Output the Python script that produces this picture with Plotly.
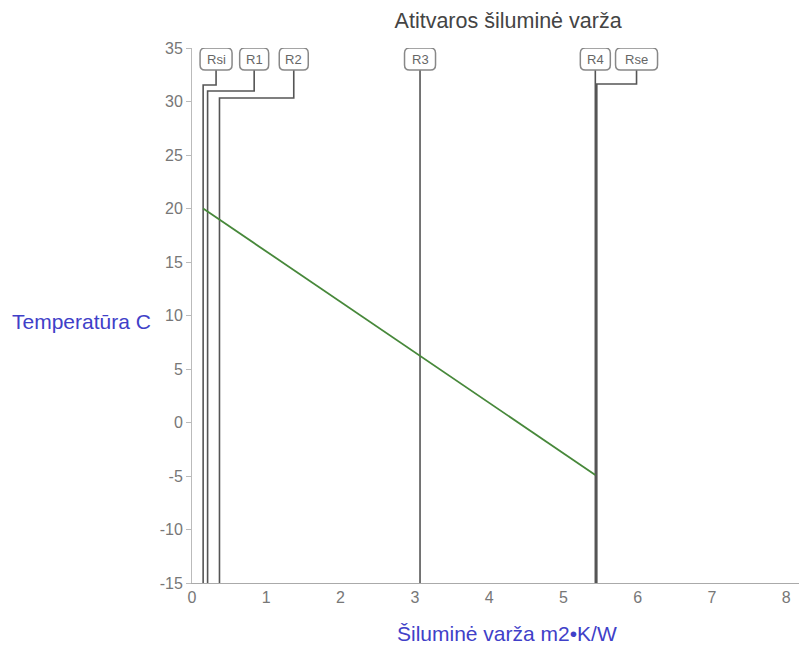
import plotly.graph_objects as go

# ---- data ----
layers = ["Rsi", "R1", "R2", "R3", "R4", "Rse"]
r_cum = [0.15, 0.21, 0.37, 3.07, 5.43, 5.45]          # cumulative resistance, m2·K/W
temp_x = [0.15, 3.07, 5.43]
temp_y = [20.0, 6.2, -4.9]                            # temperature, °C
x_ticks = [0, 1, 2, 3, 4, 5, 6, 7, 8]
y_ticks = [-15, -10, -5, 0, 5, 10, 15, 20, 25, 30, 35]
y_ticktext = ["-15", "-10", "-5", "0", "5", "10", "15", "20", "25", "30", "35"]

# ---- layout helpers (label placement) ----
label_x = [0.324, 0.837, 1.37, 3.07, 5.43, 5.985]
label_w = [32, 29, 29, 31, 30, 42]     # box widths in px
label_h = 22
label_y = 33.97
box_bottom = 32.94
elbow_y = [31.54, 30.98, 30.33, None, None, 31.64]
line_color = "#555555"
FONT = "Liberation Sans, Arial, sans-serif"


def rounded_box(w, h, r=5):
    x0, x1, y0, y1 = -w / 2, w / 2, -h / 2, h / 2
    return (f"M{x0+r},{y0} L{x1-r},{y0} Q{x1},{y0} {x1},{y0+r} "
            f"L{x1},{y1-r} Q{x1},{y1} {x1-r},{y1} L{x0+r},{y1} "
            f"Q{x0},{y1} {x0},{y1-r} L{x0},{y0+r} Q{x0},{y0} {x0+r},{y0} Z")


fig = go.Figure()

for name, xr, lx, ey, w in zip(layers, r_cum, label_x, elbow_y, label_w):
    if ey is None:
        xs = [xr, xr]
        ys = [box_bottom, -15]
    else:
        xs = [lx, lx, xr, xr]
        ys = [box_bottom, ey, ey, -15]
    fig.add_trace(go.Scatter(x=xs, y=ys, mode="lines",
                             line=dict(color=line_color, width=1.6),
                             hoverinfo="skip", showlegend=False))
    fig.add_shape(type="path", xref="x", yref="y",
                  xsizemode="pixel", ysizemode="pixel",
                  xanchor=lx, yanchor=label_y,
                  path=rounded_box(w, label_h),
                  line=dict(color="#888", width=1.5), fillcolor="white",
                  layer="above")
    fig.add_annotation(x=lx, y=label_y, text=name, showarrow=False,
                       font=dict(family=FONT, size=13, color="#666"),
                       xref="x", yref="y")

fig.add_trace(go.Scatter(x=temp_x, y=temp_y, mode="lines",
                         line=dict(color="#47883a", width=1.8),
                         showlegend=False))

fig.update_layout(
    width=807, height=646,
    margin=dict(l=184, r=8, t=40, b=71),
    paper_bgcolor="white", plot_bgcolor="white",
    font=dict(family=FONT, color="#777"),
    title=dict(text="Atitvaros šiluminė varža", x=0.514, xref="paper",
               xanchor="center", y=0.981, yanchor="middle",
               font=dict(size=21.5, color="#444")),
    xaxis=dict(range=[0, 8.28], tickvals=x_ticks, showgrid=False, zeroline=False,
               showline=True, linecolor="#aaa", linewidth=1, ticks="",
               tickfont=dict(size=16, color="#777")),
    yaxis=dict(range=[-15, 35], tickvals=y_ticks, ticktext=y_ticktext,
               showgrid=False, zeroline=False,
               showline=True, linecolor="#bbb", linewidth=1, ticks="outside",
               ticklen=5, tickcolor="#bbb",
               tickfont=dict(size=16, color="#777")),
)

fig.add_annotation(text="Temperatūra C", xref="paper", yref="paper",
                   x=-0.180, y=0.488, xanchor="center", yanchor="middle",
                   showarrow=False, font=dict(family=FONT, size=21, color="#4040c8"))
fig.add_annotation(text="Šiluminė varža m2•K/W", xref="paper", yref="paper",
                   x=0.512, y=-0.0935, xanchor="center", yanchor="middle",
                   showarrow=False, font=dict(family=FONT, size=21, color="#4040c8"))

fig.write_html("out.html")
